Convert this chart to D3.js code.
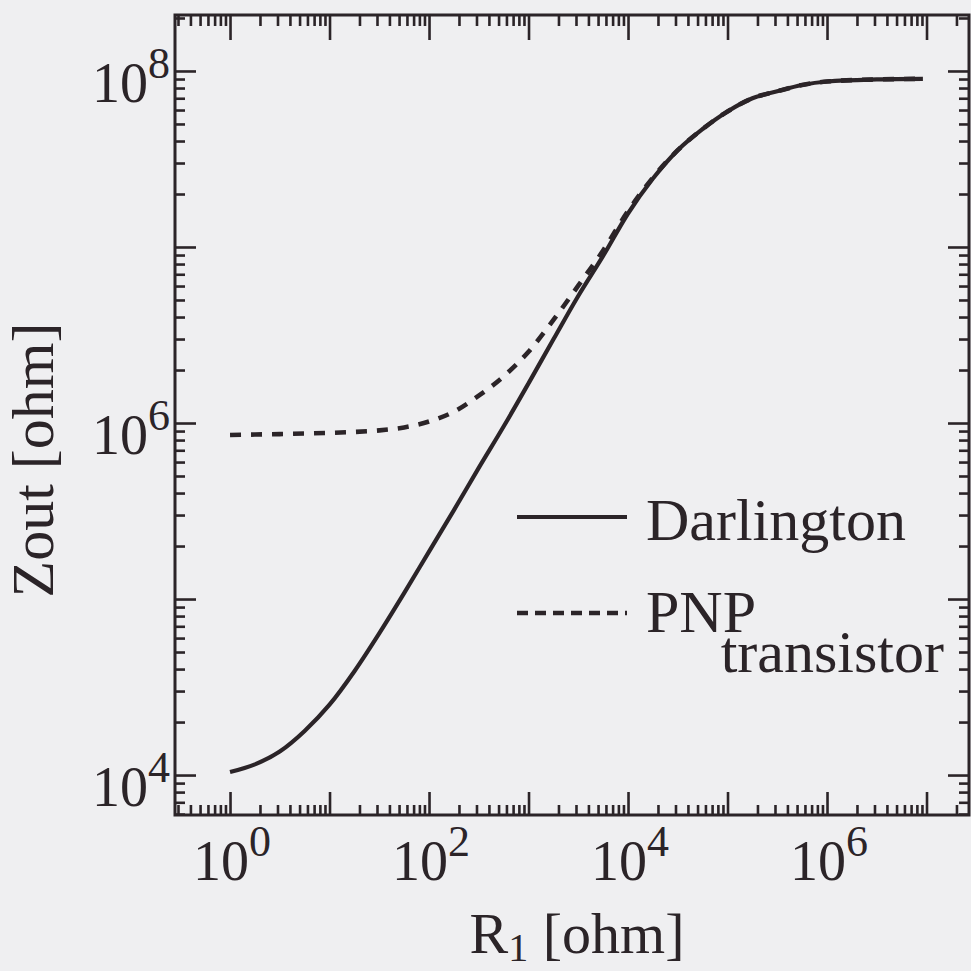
<!DOCTYPE html>
<html lang="en">
  <head>
    <meta charset="UTF-8" />
    <title>Zout vs R1</title>
    <script src="https://d3js.org/d3.v7.min.js"></script>
    <style>
      body { margin: 0; background: #efeff1; }
      text { font-family: "Liberation Serif", "DejaVu Serif", serif; fill: #2b2428; }
    </style>
  </head>
  <body>
    <svg width="971" height="971"></svg>
    <script>
      // R1 values (ohm)
      const r1 = [1, 1.78, 3.16, 5.62, 10, 17.8, 31.6, 56.2, 100, 178, 316, 562,
        1e3, 1.78e3, 3.16e3, 5.62e3, 1e4, 1.78e4, 3.16e4, 5.62e4,
        1e5, 1.78e5, 3.16e5, 5.62e5, 1e6, 3.16e6, 9.2e6];

      // Zout, Darlington (solid)
      const darlington = [1.04e4, 1.15e4, 1.36e4, 1.78e4, 2.51e4, 3.89e4, 6.38e4, 1.08e5,
        1.86e5, 3.2e5, 5.56e5, 9.55e5, 1.68e6, 2.99e6, 5.27e6, 8.9e6,
        1.55e7, 2.45e7, 3.55e7, 4.68e7, 5.89e7, 7.0e7, 7.67e7, 8.32e7, 8.71e7, 8.95e7, 9.02e7];

      // Zout, PNP transistor (dashed)
      const pnp = [8.55e5, 8.6e5, 8.65e5, 8.72e5, 8.79e5, 8.9e5, 9.08e5, 9.44e5,
        1.02e6, 1.16e6, 1.43e6, 1.84e6, 2.54e6, 3.85e6, 6.03e6, 9.55e6,
        1.6e7, 2.48e7, 3.55e7, 4.68e7, 5.89e7, 7.0e7, 7.67e7, 8.32e7, 8.71e7, 8.95e7, 9.02e7];

      const xLabelExp = [0, 2, 4, 6];
      const yLabelExp = [4, 6, 8];

      const ink = "#2b2428";
      const svg = d3.select("svg");
      const pLeft = 175, pRight = 969, pTop = 15, pBottom = 815;

      const x = d3.scaleLog().domain([Math.pow(10, -0.553), Math.pow(10, 7.427)]).range([pLeft, pRight]);
      const y = d3.scaleLog().domain([Math.pow(10, 3.773), Math.pow(10, 8.318)]).range([pBottom, pTop]);

      // major / minor tick values
      function logTicks(scale) {
        const [a, b] = scale.domain();
        const major = [], minor = [];
        for (let e = Math.floor(Math.log10(a)); e <= Math.ceil(Math.log10(b)); e++) {
          for (let m = 1; m < 10; m++) {
            const v = m * Math.pow(10, e);
            if (v < a * 1.001 || v > b) continue;
            (m === 1 ? major : minor).push(v);
          }
        }
        return { major, minor };
      }
      const xt = logTicks(x), yt = logTicks(y);

      function drawAxis(gen, transform, values, size) {
        const g = svg.append("g").attr("transform", transform)
          .call(gen.tickValues(values).tickSize(size).tickFormat(""));
        g.select(".domain").remove();
        g.selectAll("line").attr("stroke", ink).attr("stroke-width", 2.6);
      }
      drawAxis(d3.axisBottom(x), `translate(0,${pBottom})`, xt.major, -23);
      drawAxis(d3.axisBottom(x), `translate(0,${pBottom})`, xt.minor, -10);
      drawAxis(d3.axisTop(x), `translate(0,${pTop})`, xt.major, -25);
      drawAxis(d3.axisTop(x), `translate(0,${pTop})`, xt.minor, -11);
      drawAxis(d3.axisLeft(y), `translate(${pLeft},0)`, yt.major, -21);
      drawAxis(d3.axisLeft(y), `translate(${pLeft},0)`, yt.minor, -10);
      drawAxis(d3.axisRight(y), `translate(${pRight},0)`, yt.major, -21);
      drawAxis(d3.axisRight(y), `translate(${pRight},0)`, yt.minor, -10);

      // frame
      svg.append("rect")
        .attr("x", pLeft).attr("y", pTop)
        .attr("width", pRight - pLeft).attr("height", pBottom - pTop)
        .attr("fill", "none").attr("stroke", ink).attr("stroke-width", 3);

      // curves
      const pts = (ys) => r1.map((v, i) => [v, ys[i]]);
      const line = d3.line().x((d) => x(d[0])).y((d) => y(d[1])).curve(d3.curveMonotoneX);

      svg.append("path").attr("d", line(pts(darlington)))
        .attr("fill", "none").attr("stroke", ink).attr("stroke-width", 4.2);
      svg.append("path").attr("d", line(pts(pnp)))
        .attr("fill", "none").attr("stroke", ink).attr("stroke-width", 4.6)
        .attr("stroke-dasharray", "11,10");

      // tick labels with superscripts
      function powLabel(g, e) {
        g.append("tspan").text("10");
        g.append("tspan").attr("font-size", 44).attr("dy", -24).text(e);
      }
      xLabelExp.forEach((e) => {
        const t = svg.append("text")
          .attr("x", x(Math.pow(10, e)) + 2).attr("y", 880)
          .attr("text-anchor", "middle").attr("font-size", 56);
        powLabel(t, e);
      });
      yLabelExp.forEach((e) => {
        const t = svg.append("text")
          .attr("x", 170).attr("y", y(Math.pow(10, e)) + 31)
          .attr("text-anchor", "end").attr("font-size", 56);
        powLabel(t, e);
      });

      // axis titles
      const xTitle = svg.append("text").attr("x", 577).attr("y", 953)
        .attr("text-anchor", "middle").attr("font-size", 58);
      xTitle.append("tspan").text("R");
      xTitle.append("tspan").attr("font-size", 40).attr("dy", 8).text("1");
      xTitle.append("tspan").attr("dy", -8).text(" [ohm]");

      svg.append("text")
        .attr("transform", "translate(53,460) rotate(-90)")
        .attr("text-anchor", "middle").attr("font-size", 60)
        .text("Zout [ohm]");

      // legend
      svg.append("line").attr("x1", 517).attr("x2", 627).attr("y1", 517).attr("y2", 517)
        .attr("stroke", ink).attr("stroke-width", 4.2);
      svg.append("line").attr("x1", 517).attr("x2", 627).attr("y1", 613).attr("y2", 613)
        .attr("stroke", ink).attr("stroke-width", 4.6).attr("stroke-dasharray", "11,7");
      svg.append("text").attr("x", 646).attr("y", 540).attr("font-size", 60).text("Darlington");
      const pnpLabel = svg.append("text").attr("font-size", 60);
      pnpLabel.append("tspan").attr("x", 646).attr("y", 632).text("PNP");
      pnpLabel.append("tspan").attr("x", 944).attr("y", 672)
        .attr("text-anchor", "end").text("transistor");
    </script>
  </body>
</html>
